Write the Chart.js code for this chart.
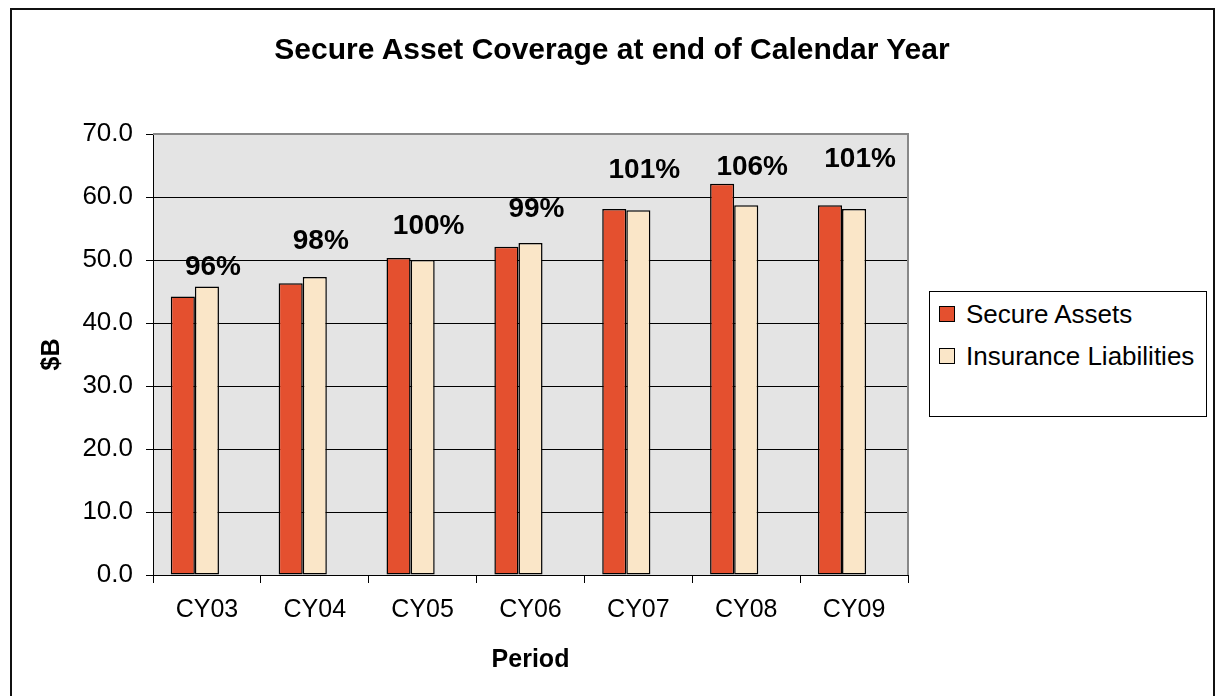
<!DOCTYPE html>
<html>
<head>
<meta charset="utf-8">
<script src="https://cdn.jsdelivr.net/npm/chart.js"></script>
<style>
  body { margin: 0; background: #fff; }
  #wrap { position: relative; width: 1216px; height: 696px; overflow: hidden; font-family: "Liberation Sans", Arial, sans-serif; }
  #frame { position: absolute; left: 10px; top: 8px; width: 1201px; height: 720px; border: 2px solid #111; }
  #title { position: absolute; left: 0; width: 1224px; top: 32px; text-align: center; font-weight: bold; font-size: 30px; }
  canvas { position: absolute; left: 0; top: 0; }
  #legend { position: absolute; left: 929px; top: 291px; width: 276px; height: 124px; border: 1px solid #000; background: #fff; }
  .item { position: absolute; left: 9px; font-size: 26px; line-height: 30px; white-space: nowrap; }
  .sw { display: inline-block; width: 14px; height: 14px; border: 1px solid #000; margin-right: 11px; vertical-align: 1px; }
</style>
</head>
<body>
<div id="wrap">
  <div id="frame"></div>
  <canvas id="chart" width="1216" height="696"></canvas>
  <div id="title">Secure Asset Coverage at end of Calendar Year</div>
  <div id="legend"></div>
</div>
<script>
// values, $B
var periods = ['CY03', 'CY04', 'CY05', 'CY06', 'CY07', 'CY08', 'CY09'];
var secureAssets = [44.2, 46.3, 50.3, 52.1, 58.1, 62.1, 58.7];
var insuranceLiabilities = [45.8, 47.3, 50.0, 52.7, 57.9, 58.7, 58.1];
var coverage = ['96%', '98%', '100%', '99%', '101%', '106%', '101%'];
// height (in $B) where each coverage label sits
var coverageLevel = [48.8, 52.9, 55.4, 58.0, 64.3, 64.7, 66.0];
var yTicks = [0, 10, 20, 30, 40, 50, 60, 70];

var red = '#E4502F';
var cream = '#FAE6C8';
var font = '"Liberation Sans", Arial, sans-serif';

// plot background, gray frame, coverage labels
var plotExtras = {
    id: 'plotExtras',
    beforeDraw: function(chart) {
        var a = chart.chartArea, ctx = chart.ctx;
        ctx.save();
        ctx.fillStyle = '#E4E4E4';
        ctx.fillRect(a.left, a.top, a.right - a.left, a.bottom - a.top);
        ctx.restore();
    },
    afterDraw: function(chart) {
        var a = chart.chartArea, ctx = chart.ctx;
        var x = chart.scales.x, y = chart.scales.y;
        ctx.save();
        ctx.strokeStyle = '#888';
        ctx.lineWidth = 2;
        ctx.beginPath();
        ctx.moveTo(a.left, a.top);
        ctx.lineTo(a.right, a.top);
        ctx.lineTo(a.right, a.bottom);
        ctx.stroke();
        ctx.fillStyle = '#000';
        ctx.font = 'bold 28px ' + font;
        ctx.textAlign = 'center';
        ctx.textBaseline = 'middle';
        coverage.forEach(function(txt, i) {
            ctx.fillText(txt, x.getPixelForValue(i) + 6, y.getPixelForValue(coverageLevel[i]));
        });
        ctx.restore();
    }
};

var ctx = document.getElementById('chart').getContext('2d');
var myChart = new Chart(ctx, {
    type: 'bar',
    data: {
        labels: periods,
        datasets: [{
            label: 'Secure Assets',
            data: secureAssets,
            backgroundColor: red,
            borderColor: '#000',
            borderWidth: 1.5,
            borderSkipped: false
        }, {
            label: 'Insurance Liabilities',
            data: insuranceLiabilities,
            backgroundColor: cream,
            borderColor: '#000',
            borderWidth: 1.5,
            borderSkipped: false
        }, {
            label: 'Coverage',
            data: periods.map(function() { return null; }),
            backgroundColor: 'rgba(0,0,0,0)'
        }]
    },
    options: {
        responsive: false,
        animation: false,
        categoryPercentage: 0.67,
        barPercentage: 1.0,
        layout: { padding: { left: 0, top: 134, right: 308, bottom: 0 } },
        plugins: {
            legend: { display: false },
            title: { display: false },
            tooltip: { enabled: false }
        },
        scales: {
            x: {
                grid: { display: true, drawOnChartArea: false, color: '#000', tickLength: 8, offset: true },
                border: { color: '#000', width: 1 },
                ticks: { color: '#000', padding: 12, font: { family: font, size: 25 } },
                title: { display: true, text: 'Period', color: '#000', padding: { bottom: 21 }, font: { family: font, size: 25, weight: 'bold' } },
                afterFit: function(s) { s.height = 121; }
            },
            y: {
                min: 0,
                max: 70,
                afterBuildTicks: function(s) { s.ticks = yTicks.map(function(v) { return { value: v }; }); },
                grid: {
                    color: function(c) { return c.tick && c.tick.value === 70 ? '#888' : '#000'; },
                    tickColor: '#000',
                    tickLength: 7,
                    lineWidth: 1
                },
                border: { color: '#000', width: 1 },
                ticks: {
                    color: '#000',
                    padding: 13,
                    font: { family: font, size: 26 },
                    callback: function(v) { return v.toFixed(1); }
                },
                title: { display: true, text: '$B', color: '#000', padding: { top: 37 }, font: { family: font, size: 25, weight: 'bold' } },
                afterFit: function(s) { s.width = 153; }
            }
        }
    },
    plugins: [plotExtras]
});

// legend box
var legend = document.getElementById('legend');
[['Secure Assets', red], ['Insurance Liabilities', cream]].forEach(function(d, i) {
    var el = document.createElement('div');
    el.className = 'item';
    el.style.top = (7 + i * 42) + 'px';
    el.innerHTML = '<span class="sw" style="background:' + d[1] + '"></span>' + d[0];
    legend.appendChild(el);
});
</script>
</body>
</html>
